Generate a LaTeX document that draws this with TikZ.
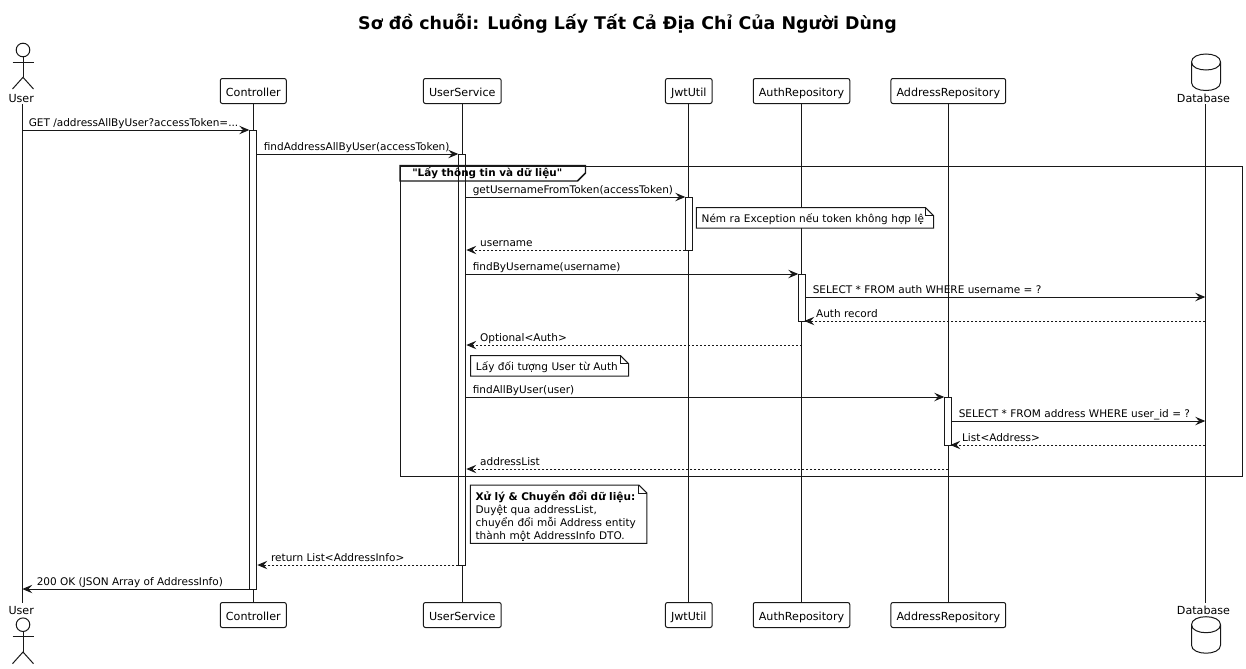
\documentclass[tikz,border=0pt]{standalone}
\usepackage{fontspec}
\usepackage{xcolor}
\setmainfont[Ligatures=TeXOff]{DejaVu Sans}
\usetikzlibrary{arrows.meta,positioning}
\definecolor{umlline}{HTML}{181818}

% stick figure and cylinder, drawn around a centre point
\newcommand{\actorfig}[2]{
    \draw[figline] (#1,#2) circle (6.8);
    \draw[figline] (#1,#2+6.8) -- (#1,#2+27.3);
    \draw[figline] (#1-10.5,#2+12) -- (#1+10.5,#2+12);
    \draw[figline] (#1-10.5,#2+39) -- (#1,#2+27.3) -- (#1+10.5,#2+39);
}
\newcommand{\dbfig}[2]{
    \draw[figline, fill=white] (#1-14.5,#2) .. controls (#1-14.5,#2-10.67) and (#1+14.5,#2-10.67) .. (#1+14.5,#2)
        -- (#1+14.5,#2+20.5) .. controls (#1+14.5,#2+31.17) and (#1-14.5,#2+31.17) .. (#1-14.5,#2+20.5) -- cycle;
    \draw[figline] (#1-14.5,#2) .. controls (#1-14.5,#2+10.67) and (#1+14.5,#2+10.67) .. (#1+14.5,#2);
}
% outline with the folded corner, round a note node
\newcommand{\foldnote}[1]{
    \draw[figline] (#1.north west) -- ([shift={(-8,0)}]#1.north east) -- ([shift={(0,8)}]#1.north east)
        -- (#1.south east) -- (#1.south west) -- cycle;
    \draw[figline] ([shift={(-8,0)}]#1.north east) -- ([shift={(-8,8)}]#1.north east) -- ([shift={(0,8)}]#1.north east);
}

\begin{document}
\begin{tikzpicture}[
    x=0.75pt, y=-0.75pt,
    figline/.style={draw=umlline, line width=0.75pt},
    party/.style={rectangle, draw=umlline, line width=0.75pt, rounded corners=1.5pt, fill=white, minimum height=18.75pt, inner xsep=4.2pt, inner ysep=0pt, text height=8.4pt, text depth=0pt, font=\fontsize{8.35}{10}\selectfont},
    figlabel/.style={inner sep=0pt, minimum height=9pt, text height=6.5pt, text depth=0pt, font=\fontsize{8.35}{10}\selectfont},
    lifeline/.style={draw=umlline, line width=0.75pt},
    bar/.style={rectangle, draw=umlline, line width=0.75pt, fill=white, minimum width=5.25pt, inner sep=0pt, anchor=north},
    call/.style={-{Stealth[length=7.5pt,width=6.3pt,inset=2.8pt]}, draw=umlline, line width=0.75pt},
    back/.style={call, dash pattern=on 1.5pt off 1.5pt},
    lblfrom/.style={pos=0, anchor=south west, xshift=4.5pt, yshift=0.6pt, inner sep=0pt, text height=7pt, text depth=2pt, font=\fontsize{7.88}{10}\selectfont},
    lblback/.style={pos=1, anchor=south west, xshift=10pt, yshift=0.6pt, inner sep=0pt, text height=7pt, text depth=2pt, font=\fontsize{7.88}{10}\selectfont},
    note/.style={rectangle, fill=white, anchor=north west, inner xsep=3.75pt, inner ysep=0pt, align=left, font=\fontsize{7.88}{9.75}\selectfont},
    oneline/.style={note, minimum height=15pt, text height=7.5pt, text depth=0pt},
    frame/.style={draw=umlline, line width=1.1pt}
]
    \useasboundingbox (0,0) rectangle (1246,668);

    \node[font=\bfseries\fontsize{13.07}{16}\selectfont] (title) at (627.5,24) {Sơ đồ chuỗi: Luồng Lấy Tất Cả Địa Chỉ Của Người Dùng};

    % participants, top row
    \node[figlabel] (user) at (21.2,98.3) {User};
    \node[party] (ctrl) at (253.3,91) {Controller};
    \node[party] (svc) at (462.3,91) {UserService};
    \node[party] (jwt) at (688.8,91) {JwtUtil};
    \node[party] (auth) at (801.5,91) {AuthRepository};
    \node[party] (addr) at (948.3,91) {AddressRepository};
    \node[figlabel] (db) at (1203.5,98.3) {Database};

    % participants, bottom row
    \node[figlabel] (userb) at (21.2,609.7) {User};
    \node[party] (ctrlb) at (253.3,615) {Controller};
    \node[party] (svcb) at (462.3,615) {UserService};
    \node[party] (jwtb) at (688.8,615) {JwtUtil};
    \node[party] (authb) at (801.5,615) {AuthRepository};
    \node[party] (addrb) at (948.3,615) {AddressRepository};
    \node[figlabel] (dbb) at (1203.5,609.7) {Database};

    \actorfig{23}{50}
    \actorfig{23}{624.7}
    \dbfig{1206}{62}
    \dbfig{1206}{624.7}

    \coordinate (userline) at (22.3,104.3);
    \coordinate (dbline) at (1205.3,104.3);
    \draw[lifeline] (userline) -- (userline |- userb.north);
    \draw[lifeline] (ctrl) -- (ctrlb);
    \draw[lifeline] (svc) -- (svcb);
    \draw[lifeline] (jwt) -- (jwtb);
    \draw[lifeline] (auth) -- (authb);
    \draw[lifeline] (addr) -- (addrb);
    \draw[lifeline] (dbline) -- (dbline |- dbb.north);

    % message rows
    \foreach \rname/\ry in {r1/130,r2/154,r3/197,r4/250,r5/274,r6/297,r7/321,r8/345,r9/397,r10/421,r11/445,r12/469,r13/565,r14/589}
        \coordinate (\rname) at (0,\ry);

    % activations
    \node[bar, minimum height=344.25pt] (ctrlbar) at (253.3,130) {};
    \node[bar, minimum height=308.25pt] (svcbar) at (462.3,154) {};
    \node[bar, minimum height=39.75pt] (jwtbar) at (689.3,197) {};
    \node[bar, minimum height=35.25pt] (authbar) at (802.3,274) {};
    \node[bar, minimum height=36pt] (addrbar) at (948.3,397) {};

    % group frame
    \node[frame, rectangle, minimum width=631.5pt, minimum height=232.5pt, anchor=north west, inner sep=0pt] (grp) at (400,165.5) {};
    \draw[frame] (400,165.5) -- (585.5,165.5) -- (585.5,173) -- (577.5,181) -- (400,181) -- cycle;
    \node[anchor=west, inner sep=0pt, font=\bfseries\fontsize{7.8}{10}\selectfont] (grplabel) at (412,173.5) {"Lấy thông tin và dữ liệu"};

    % notes
    \node[oneline, text width=170pt] (note1) at (696.4,207.7) {Ném ra Exception nếu token không hợp lệ};
    \node[oneline, text width=110.5pt] (note2) at (470.7,355.7) {Lấy đối tượng User từ Auth};
    \node[note, text width=124.5pt, inner ysep=2.5pt, text height=9.2pt, text depth=29.25pt] (note3) at (470.3,485) {\textbf{Xử lý \& Chuyển đổi dữ liệu:}\\Duyệt qua addressList,\\chuyển đổi mỗi Address entity\\thành một AddressInfo DTO.};
    \foldnote{note1}
    \foldnote{note2}
    \foldnote{note3}

    % messages
    \draw[call] (userline |- r1) -- (ctrlbar.west |- r1) node[lblfrom] (m1) {GET /addressAllByUser?accessToken=...};
    \draw[call] (ctrlbar.east |- r2) -- (svcbar.west |- r2) node[lblfrom] (m2) {findAddressAllByUser(accessToken)};
    \draw[call] (svcbar.east |- r3) -- (jwtbar.west |- r3) node[lblfrom] (m3) {getUsernameFromToken(accessToken)};
    \draw[back] (jwtbar.west |- r4) -- (svcbar.east |- r4) node[lblback] (m4) {username};
    \draw[call] (svcbar.east |- r5) -- (authbar.west |- r5) node[lblfrom] (m5) {findByUsername(username)};
    \draw[call] (authbar.east |- r6) -- (dbline |- r6) node[lblfrom] (m6) {SELECT * FROM auth WHERE username = ?};
    \draw[back] (dbline |- r7) -- ([xshift=-1.5pt]authbar.east |- r7) node[lblback, xshift=-1.5pt] (m7) {Auth record};
    \draw[back] (auth |- r8) -- (svcbar.east |- r8) node[lblback] (m8) {Optional<Auth>};
    \draw[call] (svcbar.east |- r9) -- (addrbar.west |- r9) node[lblfrom] (m9) {findAllByUser(user)};
    \draw[call] (addrbar.east |- r10) -- (dbline |- r10) node[lblfrom] (m10) {SELECT * FROM address WHERE user\_id = ?};
    \draw[back] (dbline |- r11) -- ([xshift=-1.5pt]addrbar.east |- r11) node[lblback, xshift=-1.5pt] (m11) {List<Address>};
    \draw[back] (addr |- r12) -- (svcbar.east |- r12) node[lblback] (m12) {addressList};
    \draw[back] (svcbar.west |- r13) -- (ctrlbar.east |- r13) node[lblback] (m13) {return List<AddressInfo>};
    \draw[call] (ctrlbar.west |- r14) -- (userline |- r14) node[lblback, xshift=0.5pt] (m14) {200 OK (JSON Array of AddressInfo)};
\end{tikzpicture}
\end{document}
